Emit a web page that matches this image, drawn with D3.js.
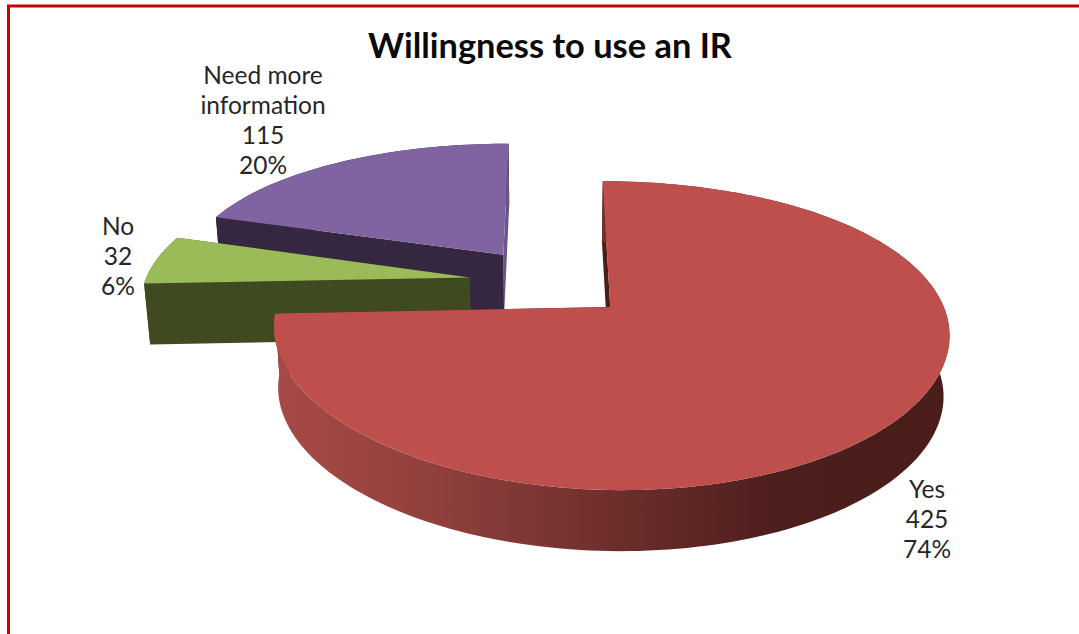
<!DOCTYPE html>
<html>
<head>
<meta charset="utf-8">
<script src="https://cdnjs.cloudflare.com/ajax/libs/d3/7.8.5/d3.min.js"></script>
<style>
  html, body { margin: 0; padding: 0; background: #fff; }
  svg { display: block; }
  text { font-family: Lato, "Open Sans", sans-serif; fill: #262626; }
</style>
</head>
<body>
<script>
// Survey answers, in the clockwise order the slices are laid out from twelve o'clock.
const categories = ["Yes", "No", "Need more information"];
const responses = [425, 32, 115];
const chartTitle = "Willingness to use an IR";

const topColors = ["#BE4F4C", "#9BBB59", "#8064A2"];
const sideColors = ["#9E4542", "#3F4A21", "#35273F"];
const cutColors = ["#4A1D1B", "#3F4A21", "#6C5489"];

// Label blocks: centre x and first baseline, with the wrapped category lines.
const labelLines = [["Yes"], ["No"], ["Need more", "information"]];
const labelX = [927, 118, 263];
const labelY = [498, 235, 84];

const width = 1079, height = 634;

// Perspective set-up for a unit-radius pie lying in a tilted plane.
const view = { x0: 550, y0: 282, kx: 325, ky: 140, persp: 0.18, skew: -11 };
const explode = 0.25;     // how far each slice is pulled out along its bisector
const depth = 61;         // thickness of the pie on screen
const floorShrink = 0.985; // the underside narrows slightly towards the centre

const project = (u, v) => {
  const w = 1 - view.persp * v;
  return [view.x0 + view.kx * u / w + view.skew * u * v, view.y0 + view.ky * v / w];
};
const lower = ([x, y]) => [view.x0 + (x - view.x0) * floorShrink, y + depth];

const pie = d3.pie().sort(null);
const arcs = pie(responses);
const total = d3.sum(responses);
const percent = d3.format(".0%");
const path = d3.line();
const linear = d3.scaleLinear();

const svg = d3.select("body").append("svg")
  .attr("width", width).attr("height", height);

const defs = svg.append("defs");
const wallGradient = defs.append("linearGradient")
  .attr("id", "yes-wall").attr("x1", 0).attr("x2", 1).attr("y1", 0).attr("y2", 0);
[[0, "#A84A47"], [0.25, "#8F3F3C"], [0.5, "#6E2F2C"], [0.75, "#4C1E1C"], [1, "#4A1D1B"]]
  .forEach(([o, c]) => wallGradient.append("stop").attr("offset", o).attr("stop-color", c));

// Window border: runs along the top and down the left only.
svg.append("path")
  .attr("d", path([[8.5, height], [8.5, 6], [width, 6]]))
  .attr("fill", "none").attr("stroke", "#C8000A").attr("stroke-width", 3);

// Geometry of one exploded slice, projected onto the screen.
const sliceGeometry = (d) => {
  const mid = (d.startAngle + d.endAngle) / 2;
  const ou = explode * Math.sin(mid), ov = -explode * Math.cos(mid);
  const steps = Math.max(8, Math.ceil((d.endAngle - d.startAngle) * 40));
  linear.domain([0, steps]).range([d.startAngle, d.endAngle]);
  const rim = d3.range(steps + 1).map(i => {
    const a = linear(i);
    return project(ou + Math.sin(a), ov - Math.cos(a));
  });
  return { apex: project(ou, ov), rim };
};

const drawWall = (sel) => sel.append("path")
  .attr("d", ({ geo }) => path(geo.rim.concat(geo.rim.map(lower).reverse())) + "Z")
  .attr("fill", d => d.i === 0 ? "url(#yes-wall)" : sideColors[d.i]);

const cutFace = (geo, r) => path([geo.apex, r, lower(r), lower(geo.apex)]) + "Z";

// Far slices first, so nearer ones paint over them.
const paintOrder = [2, 1, 0];
const slices = svg.append("g").selectAll("g")
  .data(paintOrder.map(i => ({ i, arc: arcs[i], geo: sliceGeometry(arcs[i]) })))
  .join("g");

// The exploded back slices show their cut faces in front of the wall;
// the large front slice shows its wall in front of the cuts.
drawWall(slices.filter(d => d.i !== 0));

slices.append("path")
  .attr("d", ({ geo }) => cutFace(geo, geo.rim[geo.rim.length - 1]))
  .attr("fill", d => cutColors[d.i]);
slices.append("path")
  .attr("d", ({ geo }) => cutFace(geo, geo.rim[0]))
  .attr("fill", d => d.i === 0 ? cutColors[0] : sideColors[d.i]);

drawWall(slices.filter(d => d.i === 0));

// Top face.
slices.append("path")
  .attr("d", ({ geo }) => path([geo.apex, ...geo.rim]) + "Z")
  .attr("fill", d => topColors[d.i]);

// Title.
svg.append("text")
  .attr("x", 550).attr("y", 58)
  .attr("text-anchor", "middle")
  .attr("font-size", 34.4).attr("font-weight", 700)
  .style("fill", "#0a0a0a")
  .text(chartTitle);

// Data labels: category, count, share.
const labels = svg.append("g").attr("font-size", 24.5).attr("text-anchor", "middle")
  .selectAll("text")
  .data(categories.map((c, i) => ({
    lines: [...labelLines[i], String(responses[i]), percent(responses[i] / total)],
    x: labelX[i], y: labelY[i]
  })))
  .join("text");
labels.selectAll("tspan")
  .data(d => d.lines.map((line, j) => ({ line, x: d.x, y: d.y + j * 30 })))
  .join("tspan")
  .attr("x", d => d.x).attr("y", d => d.y)
  .text(d => d.line);
</script>
</body>
</html>
